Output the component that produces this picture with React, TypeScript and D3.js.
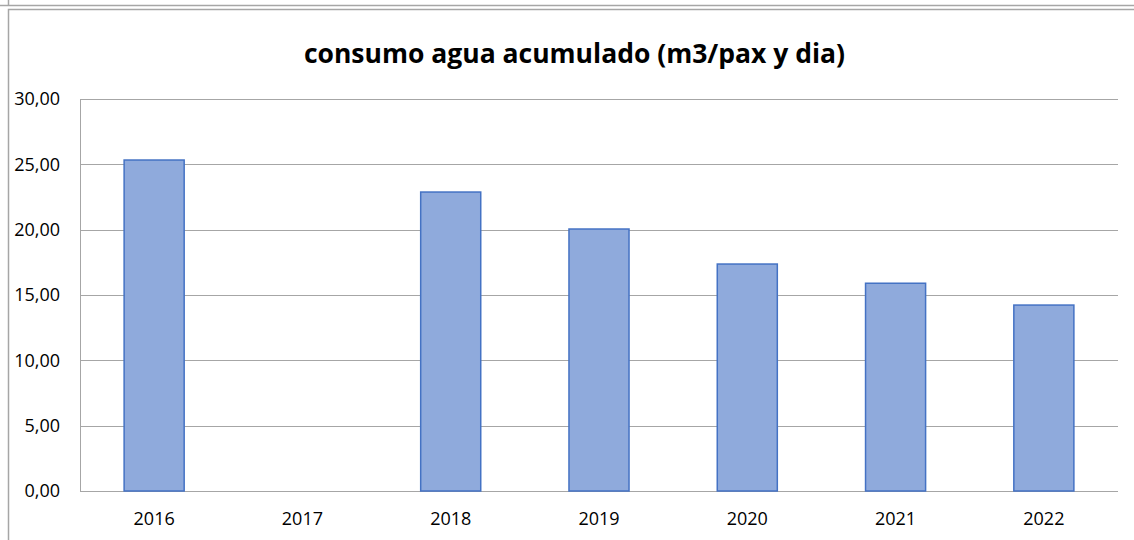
import { useEffect, useRef } from "react";
import * as d3 from "d3";

const years = ["2016", "2017", "2018", "2019", "2020", "2021", "2022"];
const values: (number | null)[] = [25.33, null, 22.88, 20.05, 17.37, 15.9, 14.23];
const yTicks = [0, 5, 10, 15, 20, 25, 30];

const W = 1134;
const H = 540;

const App = () => {
  const ref = useRef<SVGSVGElement>(null);

  useEffect(() => {
    if (!ref.current) return;
    const svg = d3.select(ref.current);
    svg.selectAll("*").remove();

    const font = "Open Sans, Liberation Sans, sans-serif";
    const margin = { top: 99, right: 16, bottom: 49, left: 80 };
    const width = W - margin.left - margin.right;
    const height = H - margin.top - margin.bottom;

    // outer frames (previous chart bottom edge + this chart's box)
    svg.append("line")
      .attr("x1", 0).attr("x2", W)
      .attr("y1", 5.5).attr("y2", 5.5)
      .attr("stroke", "#a6a6a6").attr("stroke-width", 1.5);
    svg.append("line")
      .attr("x1", 8.5).attr("x2", 8.5)
      .attr("y1", 0).attr("y2", 5.5)
      .attr("stroke", "#a6a6a6").attr("stroke-width", 1.5);
    svg.append("rect")
      .attr("x", 8.5).attr("y", 9.5)
      .attr("width", W + 10).attr("height", H + 10)
      .attr("fill", "white")
      .attr("stroke", "#a6a6a6").attr("stroke-width", 1.5);

    svg.append("text")
      .attr("x", 574.5)
      .attr("y", 63)
      .attr("text-anchor", "middle")
      .style("font-family", font)
      .style("font-size", "26.5px")
      .style("font-weight", "bold")
      .attr("fill", "#000")
      .text("consumo agua acumulado (m3/pax y dia)");

    const g = svg.append("g").attr("transform", `translate(${margin.left},${margin.top})`);

    const x = d3.scaleBand().domain(years).range([0, width]).paddingInner(0.595).paddingOuter(0.2975);
    const y = d3.scaleLinear().domain([0, 30]).range([height, 0]);

    // gridlines
    g.selectAll(".grid")
      .data(yTicks)
      .enter()
      .append("line")
      .attr("x1", 0).attr("x2", width)
      .attr("y1", (d) => Math.round(y(d)) + 0.5)
      .attr("y2", (d) => Math.round(y(d)) + 0.5)
      .attr("stroke", "#a6a6a6").attr("stroke-width", 1);

    // left axis line
    g.append("line")
      .attr("x1", 0.5).attr("x2", 0.5)
      .attr("y1", 0).attr("y2", height)
      .attr("stroke", "#a6a6a6");

    // y labels
    g.selectAll(".ylab")
      .data(yTicks)
      .enter()
      .append("text")
      .attr("x", -20)
      .attr("y", (d) => y(d))
      .attr("dy", "0.36em")
      .attr("text-anchor", "end")
      .style("font-family", font)
      .style("font-size", "18px")
      .attr("fill", "#000")
      .text((d) => d3.format(".2f")(d).replace(".", ","));

    // bars
    g.selectAll(".bar")
      .data(years.map((yr, i) => ({ yr, v: values[i] })).filter((d) => d.v !== null))
      .enter()
      .append("rect")
      .attr("x", (d) => x(d.yr)!)
      .attr("width", x.bandwidth())
      .attr("y", (d) => y(d.v as number))
      .attr("height", (d) => height - y(d.v as number))
      .attr("fill", "#8faadc")
      .attr("stroke", "#4472c4")
      .attr("stroke-width", 1.5);

    // x labels
    g.selectAll(".xlab")
      .data(years)
      .enter()
      .append("text")
      .attr("x", (d) => x(d)! + x.bandwidth() / 2)
      .attr("y", height + 34)
      .attr("text-anchor", "middle")
      .style("font-family", font)
      .style("font-size", "18px")
      .attr("fill", "#000")
      .text((d) => d);
  }, []);

  return (
    <svg
      ref={ref}
      width={W}
      height={H}
      style={{ position: "absolute", left: 0, top: 0, display: "block", background: "white" }}
    />
  );
};

export default App;
